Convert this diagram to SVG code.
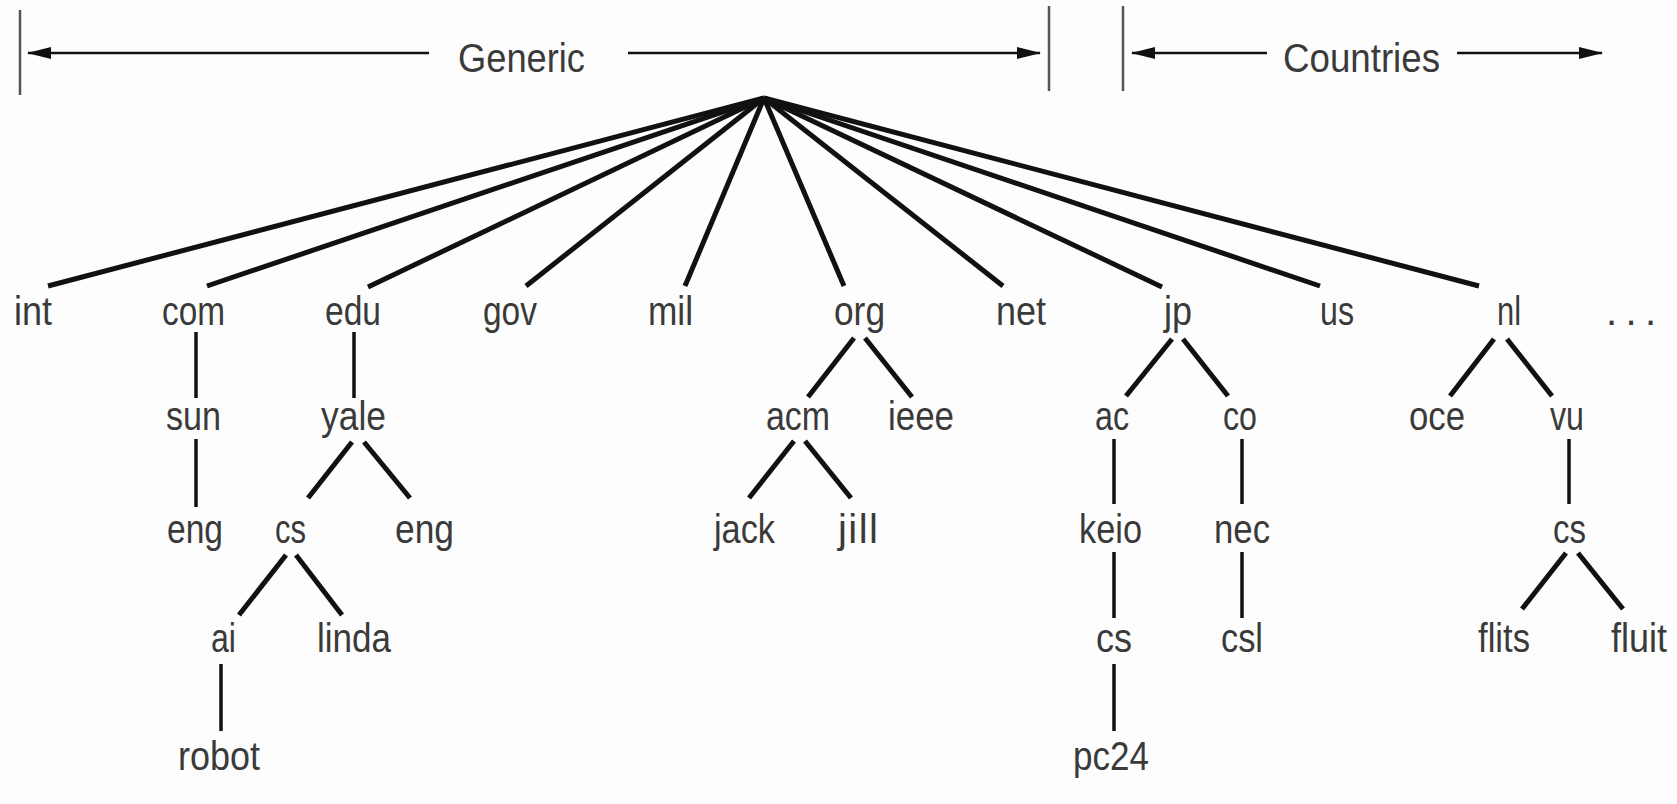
<svg xmlns="http://www.w3.org/2000/svg" width="1677" height="804" viewBox="0 0 1677 804">
<defs>
<marker id="ah" viewBox="0 0 24 14" refX="23" refY="7" markerWidth="24" markerHeight="14" markerUnits="userSpaceOnUse" orient="auto-start-reverse">
<path d="M0,1 L24,7 L0,13 Z" fill="#111"/>
</marker>
</defs>
<style>
text{font-family:"Liberation Sans",Arial,sans-serif;font-size:40px;fill:#3a3a3a;}
.fan{stroke:#111;stroke-width:5;stroke-linecap:butt;fill:none}
.v{stroke:#111;stroke-width:3.5;fill:none}
.d{stroke:#111;stroke-width:5;fill:none}
.bar{stroke:#555;stroke-width:2.5;fill:none}
.arr{stroke:#111;stroke-width:2.5;fill:none}
</style>
<rect width="1677" height="804" fill="#fdfdfd"/>
<g id="header">
<line class="bar" x1="20" y1="10" x2="20" y2="95"/>
<line class="bar" x1="1049" y1="6" x2="1049" y2="91"/>
<line class="bar" x1="1123" y1="6" x2="1123" y2="91"/>
<line class="arr" x1="429" y1="53" x2="28" y2="53" marker-end="url(#ah)"/>
<line class="arr" x1="628" y1="53" x2="1040" y2="53" marker-end="url(#ah)"/>
<line class="arr" x1="1267" y1="53" x2="1132" y2="53" marker-end="url(#ah)"/>
<line class="arr" x1="1457" y1="53" x2="1602" y2="53" marker-end="url(#ah)"/>
<text x="458" y="72" textLength="127" lengthAdjust="spacingAndGlyphs">Generic</text>
<text x="1283" y="72" textLength="157" lengthAdjust="spacingAndGlyphs">Countries</text>
</g>
<g id="connectors">
<line class="fan" x1="764" y1="98" x2="48" y2="286"/>
<line class="fan" x1="764" y1="98" x2="207" y2="286"/>
<line class="fan" x1="764" y1="98" x2="368" y2="287"/>
<line class="fan" x1="764" y1="98" x2="526" y2="286"/>
<line class="fan" x1="764" y1="98" x2="685" y2="286"/>
<line class="fan" x1="764" y1="98" x2="844" y2="286"/>
<line class="fan" x1="764" y1="98" x2="1003" y2="286"/>
<line class="fan" x1="764" y1="98" x2="1162" y2="287"/>
<line class="fan" x1="764" y1="98" x2="1320" y2="286"/>
<line class="fan" x1="764" y1="98" x2="1479" y2="286"/>
<line class="v" x1="196" y1="332" x2="196" y2="398"/>
<line class="v" x1="354" y1="332" x2="354" y2="398"/>
<line class="d" x1="854" y1="338" x2="808" y2="397"/>
<line class="d" x1="865" y1="338" x2="912" y2="397"/>
<line class="d" x1="1172" y1="339" x2="1126" y2="396"/>
<line class="d" x1="1183" y1="339" x2="1228" y2="396"/>
<line class="d" x1="1494" y1="339" x2="1450" y2="396"/>
<line class="d" x1="1507" y1="339" x2="1552" y2="396"/>
<line class="v" x1="196" y1="439" x2="196" y2="507"/>
<line class="d" x1="352" y1="442" x2="308" y2="498"/>
<line class="d" x1="364" y1="442" x2="410" y2="498"/>
<line class="d" x1="794" y1="441" x2="749" y2="498"/>
<line class="d" x1="805" y1="441" x2="851" y2="498"/>
<line class="v" x1="1114" y1="439" x2="1114" y2="504"/>
<line class="v" x1="1242" y1="439" x2="1242" y2="504"/>
<line class="v" x1="1569" y1="439" x2="1569" y2="504"/>
<line class="d" x1="286" y1="555" x2="239" y2="615"/>
<line class="d" x1="296" y1="555" x2="342" y2="615"/>
<line class="v" x1="1114" y1="552" x2="1114" y2="618"/>
<line class="v" x1="1242" y1="552" x2="1242" y2="618"/>
<line class="d" x1="1566" y1="553" x2="1522" y2="609"/>
<line class="d" x1="1578" y1="553" x2="1623" y2="609"/>
<line class="v" x1="221" y1="664" x2="221" y2="731"/>
<line class="v" x1="1114" y1="664" x2="1114" y2="731"/>
</g>
<g id="n-int"><text x="14" y="325" textLength="38" lengthAdjust="spacingAndGlyphs">int</text></g>
<g id="n-com"><text x="162" y="325" textLength="63" lengthAdjust="spacingAndGlyphs">com</text></g>
<g id="n-edu"><text x="325" y="325" textLength="56" lengthAdjust="spacingAndGlyphs">edu</text></g>
<g id="n-gov"><text x="483" y="325" textLength="54" lengthAdjust="spacingAndGlyphs">gov</text></g>
<g id="n-mil"><text x="648" y="325" textLength="45" lengthAdjust="spacingAndGlyphs">mil</text></g>
<g id="n-org"><text x="834" y="325" textLength="51" lengthAdjust="spacingAndGlyphs">org</text></g>
<g id="n-net"><text x="996" y="325" textLength="50" lengthAdjust="spacingAndGlyphs">net</text></g>
<g id="n-jp"><text x="1164" y="325" textLength="28" lengthAdjust="spacingAndGlyphs">jp</text></g>
<g id="n-us"><text x="1320" y="325" textLength="34" lengthAdjust="spacingAndGlyphs">us</text></g>
<g id="n-nl"><text x="1497" y="325" textLength="24" lengthAdjust="spacingAndGlyphs">nl</text></g>
<g id="n-more"><text x="1606" y="325" textLength="50" lengthAdjust="spacing">. . .</text></g>
<g id="n-sun"><text x="166" y="430" textLength="55" lengthAdjust="spacingAndGlyphs">sun</text></g>
<g id="n-yale"><text x="321" y="430" textLength="65" lengthAdjust="spacingAndGlyphs">yale</text></g>
<g id="n-acm"><text x="766" y="430" textLength="64" lengthAdjust="spacingAndGlyphs">acm</text></g>
<g id="n-ieee"><text x="888" y="430" textLength="66" lengthAdjust="spacingAndGlyphs">ieee</text></g>
<g id="n-ac"><text x="1095" y="430" textLength="34" lengthAdjust="spacingAndGlyphs">ac</text></g>
<g id="n-co"><text x="1223" y="430" textLength="34" lengthAdjust="spacingAndGlyphs">co</text></g>
<g id="n-oce"><text x="1409" y="430" textLength="56" lengthAdjust="spacingAndGlyphs">oce</text></g>
<g id="n-vu"><text x="1550" y="430" textLength="34" lengthAdjust="spacingAndGlyphs">vu</text></g>
<g id="n-eng1"><text x="167" y="543" textLength="56" lengthAdjust="spacingAndGlyphs">eng</text></g>
<g id="n-cs-yale"><text x="275" y="543" textLength="31" lengthAdjust="spacingAndGlyphs">cs</text></g>
<g id="n-eng2"><text x="395" y="543" textLength="59" lengthAdjust="spacingAndGlyphs">eng</text></g>
<g id="n-jack"><text x="714" y="543" textLength="61" lengthAdjust="spacingAndGlyphs">jack</text></g>
<g id="n-jill"><text x="838" y="543" textLength="40" lengthAdjust="spacing">jill</text></g>
<g id="n-keio"><text x="1079" y="543" textLength="63" lengthAdjust="spacingAndGlyphs">keio</text></g>
<g id="n-nec"><text x="1214" y="543" textLength="56" lengthAdjust="spacingAndGlyphs">nec</text></g>
<g id="n-cs-vu"><text x="1553" y="543" textLength="33" lengthAdjust="spacingAndGlyphs">cs</text></g>
<g id="n-ai"><text x="211" y="652" textLength="25" lengthAdjust="spacingAndGlyphs">ai</text></g>
<g id="n-linda"><text x="317" y="652" textLength="74" lengthAdjust="spacingAndGlyphs">linda</text></g>
<g id="n-cs-keio"><text x="1096" y="652" textLength="36" lengthAdjust="spacingAndGlyphs">cs</text></g>
<g id="n-csl"><text x="1221" y="652" textLength="42" lengthAdjust="spacingAndGlyphs">csl</text></g>
<g id="n-flits"><text x="1478" y="652" textLength="52" lengthAdjust="spacingAndGlyphs">flits</text></g>
<g id="n-fluit"><text x="1611" y="652" textLength="56" lengthAdjust="spacingAndGlyphs">fluit</text></g>
<g id="n-robot"><text x="178" y="770" textLength="82" lengthAdjust="spacingAndGlyphs">robot</text></g>
<g id="n-pc24"><text x="1073" y="770" textLength="76" lengthAdjust="spacingAndGlyphs">pc24</text></g>
</svg>
